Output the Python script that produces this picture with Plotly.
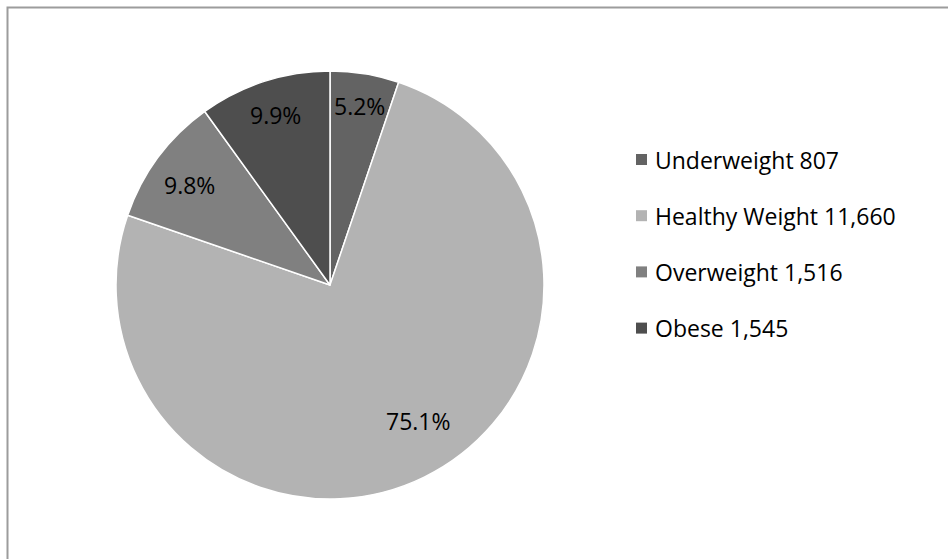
import math
import plotly.graph_objects as go

categories = ["Underweight", "Healthy Weight", "Overweight", "Obese"]
values = [807, 11660, 1516, 1545]
colors = ["#636363", "#b3b3b3", "#808080", "#4e4e4e"]

W, H = 948, 559
cx, cy, R = 330, 285, 214  # pie centre / radius in pixels
label_radius = [0.85, 0.76, 0.806, 0.835]  # style: radial placement of % labels
label_angle_shift = [0, -7, -1, 0]         # style: best-fit angular nudge (degrees)
FONT = "Open Sans"

fig = go.Figure()
fig.add_trace(go.Pie(
    labels=categories,
    values=values,
    sort=False,
    direction="clockwise",
    rotation=0,
    marker=dict(colors=colors, line=dict(color="white", width=1.5)),
    textinfo="none",
    showlegend=False,
    hoverinfo="label+value+percent",
    domain=dict(x=[(cx - R) / W, (cx + R) / W],
                y=[(H - cy - R) / H, (H - cy + R) / H]),
))

shapes = []
annotations = []
# border (top and left visible)
shapes.append(dict(type="rect", xref="paper", yref="paper",
                   x0=7.5 / W, x1=1.2, y0=-0.2, y1=(H - 7.5) / H,
                   line=dict(color="#9c9c9c", width=2), fillcolor="rgba(0,0,0,0)", layer="below"))

# percentage labels, placed at each slice's mid-angle
total = sum(values)
cum = 0.0
for v, rf, sh in zip(values, label_radius, label_angle_shift):
    frac = v / total
    mid = (cum + frac / 2) * 2 * math.pi + math.radians(sh)
    cum += frac
    px = cx + rf * R * math.sin(mid)
    py = cy - rf * R * math.cos(mid)
    annotations.append(dict(xref="paper", yref="paper", x=px / W, y=(H - py) / H,
                            xanchor="center", yanchor="middle", showarrow=False,
                            text=f"{frac * 100:.1f}%",
                            font=dict(family=FONT, size=23, color="#000000")))

# manual legend
leg_x = 636
leg_y0 = 159.5
leg_dy = 56.2
sq = 11
for i, (c, v, col) in enumerate(zip(categories, values, colors)):
    yc = leg_y0 + i * leg_dy
    shapes.append(dict(type="rect", xref="paper", yref="paper",
                       x0=leg_x / W, x1=(leg_x + sq) / W,
                       y0=(H - yc - sq / 2) / H, y1=(H - yc + sq / 2) / H,
                       line=dict(width=0), fillcolor=col))
    annotations.append(dict(xref="paper", yref="paper",
                            x=(leg_x + sq + 6) / W, y=(H - yc) / H,
                            xanchor="left", yanchor="middle",
                            text=f"{c} {v:,}", showarrow=False,
                            font=dict(family=FONT, size=23, color="#000000")))

fig.update_layout(
    width=W, height=H,
    margin=dict(l=0, r=0, t=0, b=0),
    paper_bgcolor="white",
    plot_bgcolor="white",
    shapes=shapes,
    annotations=annotations,
)

fig.write_html("out.html")
